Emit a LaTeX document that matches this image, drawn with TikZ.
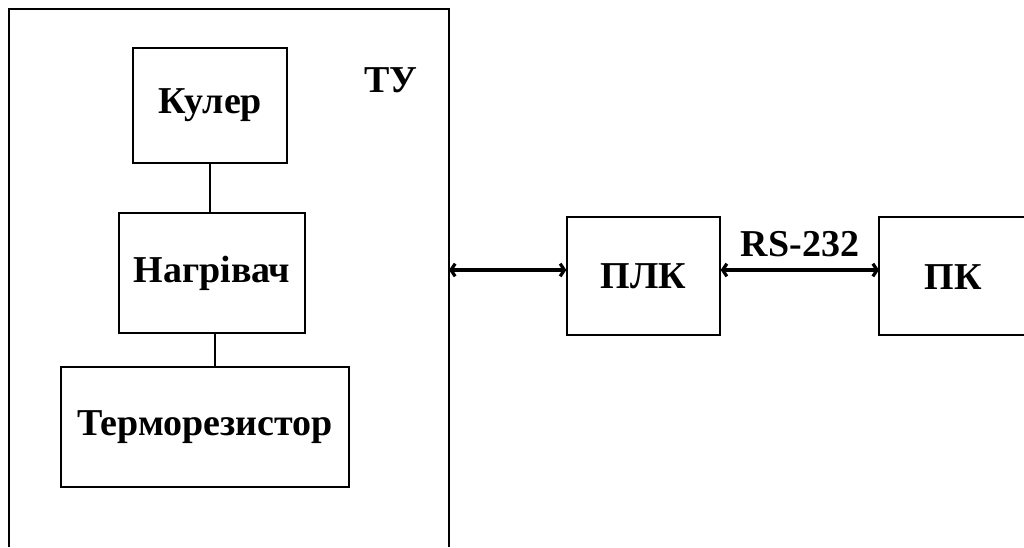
\documentclass[tikz,border=0pt]{standalone}
\usepackage{fontspec}
\setmainfont{Liberation Serif}
\usetikzlibrary{arrows.meta,positioning}
\tikzset{
    napys/.style={font=\fontsize{27}{30}\selectfont\bfseries},
    blok/.style={draw, line width=0.35mm, rectangle, inner sep=0pt, napys},
    zvyazok/.style={line width=0.8mm, {Straight Barb[length=3pt,width=9pt]}-{Straight Barb[length=3pt,width=9pt]}}
}

\begin{document}
\begin{tikzpicture}[x=0.025cm, y=-0.025cm]
        \useasboundingbox (0,0) rectangle (1024,547);
        % outer box
        \draw[line width=0.35mm] (9,547) -- (9,9) -- (449,9) -- (449,547);
        \node[napys] (tu) at (391,80) {ТУ};

        % blocks
        \node[blok, minimum width=3.85cm, minimum height=2.875cm] (kuler) at (210,105.5) {Кулер};
        \node[blok, minimum width=4.65cm, minimum height=3cm] (nagr) at (212,273) {Нагрівач};
        \node[blok, minimum width=7.2cm, minimum height=3cm] (termo) at (205,427) {Терморезистор};
        \node[blok, minimum width=3.825cm, minimum height=2.95cm] (plk) at (643.5,276) {ПЛК};
        % PK box runs off the right edge
        \draw[line width=0.35mm] (1024,217) -- (879,217) -- (879,335) -- (1024,335);
        \coordinate (pk) at (879,270);
        \node[napys] (pktext) at (953,277) {ПК};

        % links
        \coordinate (tuout) at (449,270);
        \draw[line width=0.35mm] (kuler.south) -- (kuler.south |- nagr.north);
        \draw[line width=0.35mm] ([xshift=2\pgflinewidth]nagr.south) -- ([xshift=2\pgflinewidth]nagr.south |- termo.north);
        \draw[zvyazok] (tuout) -- (plk.west |- tuout);
        \draw[zvyazok] (plk.east |- pk) -- (pk);
        \node[napys] (rs) at (800,244) {RS-232};

    \end{tikzpicture}
\end{document}
